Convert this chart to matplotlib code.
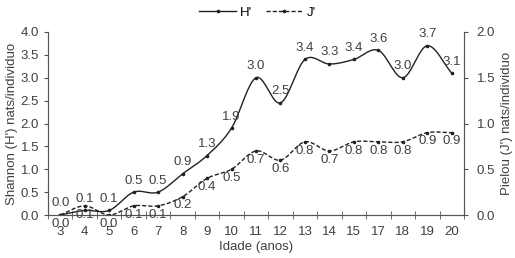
import numpy as np
import matplotlib
matplotlib.use("Agg")
import matplotlib.pyplot as plt
from matplotlib.lines import Line2D

plt.rcParams['font.family'] = ['Liberation Sans', 'DejaVu Sans']
plt.rcParams['font.size'] = 9.5

idades = ['3', '4', '5', '6', '7', '8', '9', '10', '11', '12', '13', '14', '15', '17', '18', '19', '20']
shannon = [0.0, 0.1, 0.1, 0.5, 0.5, 0.9, 1.3, 1.9, 3.0, 2.45, 3.4, 3.3, 3.4, 3.6, 3.0, 3.7, 3.1]
shannon_lbl = ['0.0', '0.1', '0.1', '0.5', '0.5', '0.9', '1.3', '1.9', '3.0', '2.5', '3.4', '3.3', '3.4', '3.6', '3.0', '3.7', '3.1']
pielou = [0.0, 0.1, 0.0, 0.1, 0.1, 0.2, 0.4, 0.5, 0.7, 0.6, 0.8, 0.7, 0.8, 0.8, 0.8, 0.9, 0.9]
pielou_lbl = ['0.0', '0.1', '0.0', '0.1', '0.1', '0.2', '0.4', '0.5', '0.7', '0.6', '0.8', '0.7', '0.8', '0.8', '0.8', '0.9', '0.9']


def smooth(x, y, n=20, t=0.5):
    # catmull-rom style curve through the points (like excel smoothed lines)
    x = np.asarray(x, float)
    y = np.asarray(y, float)
    px = np.concatenate([[2 * x[0] - x[1]], x, [2 * x[-1] - x[-2]]])
    py = np.concatenate([[2 * y[0] - y[1]], y, [2 * y[-1] - y[-2]]])
    xs, ys = [], []
    for i in range(1, len(px) - 2):
        s = np.linspace(0, 1, n, endpoint=False)
        for p, out in ((px, xs), (py, ys)):
            m1 = t * (p[i + 1] - p[i - 1])
            m2 = t * (p[i + 2] - p[i])
            h00 = 2 * s**3 - 3 * s**2 + 1
            h10 = s**3 - 2 * s**2 + s
            h01 = -2 * s**3 + 3 * s**2
            h11 = s**3 - s**2
            out.extend(h00 * p[i] + h10 * m1 + h01 * p[i + 1] + h11 * m2)
    xs.append(x[-1])
    ys.append(y[-1])
    return np.array(xs), np.array(ys)


txt = '#404040'
fig = plt.figure(figsize=(5.15, 2.58), dpi=100)
ax = fig.add_axes([48 / 515, 43 / 258, 416 / 515, 183 / 258])
ax2 = ax.twinx()

x = np.arange(len(idades))
sx, sy = smooth(x, shannon)
ax.plot(sx, sy, color='#222222', lw=1.0)
ax.plot(x, shannon, 'o', color='#222222', ms=1.6)
jx, jy = smooth(x, pielou)
ax2.plot(jx, jy, color='#222222', lw=1.0, ls=(0, (3, 1.5)))
ax2.plot(x, pielou, 'o', color='#222222', ms=1.6)

for i in range(len(x)):
    ax.annotate(shannon_lbl[i], (x[i], shannon[i]), xytext=(0, 4), textcoords='offset points',
                ha='center', va='bottom', color=txt)
    ax2.annotate(pielou_lbl[i], (x[i], pielou[i]), xytext=(0, -2), textcoords='offset points',
                 ha='center', va='top', color=txt)

ax.set_xlim(-0.5, len(idades) - 0.5)
ax.set_ylim(0, 4)
ax2.set_ylim(0, 2)
ax.set_yticks(np.arange(0, 4.01, 0.5))
ax.set_yticklabels(['%.1f' % v for v in np.arange(0, 4.01, 0.5)])
ax2.set_yticks(np.arange(0, 2.01, 0.5))
ax2.set_yticklabels(['%.1f' % v for v in np.arange(0, 2.01, 0.5)])

ax.set_xticks(x)
ax.set_xticklabels(idades)
ax.set_xticks(np.arange(-0.5, len(idades), 1), minor=True)
ax.tick_params(axis='x', which='major', length=0, pad=8, colors=txt)
ax.tick_params(axis='x', which='minor', length=6, direction='inout', color='#555555')
ax.tick_params(axis='y', length=3, colors=txt, color='#555555')
ax2.tick_params(axis='y', length=3, colors=txt, color='#555555', pad=6)

for a in (ax, ax2):
    a.spines['top'].set_visible(False)
    for s in ('left', 'right', 'bottom'):
        a.spines[s].set_color('#555555')

ax.set_xlabel('Idade (anos)', color=txt, labelpad=2)
ax.set_ylabel("Shannon (H') nats/individuo", color=txt, labelpad=2)
ax2.set_ylabel("Pielou (J') nats/individuo", color=txt, labelpad=4)

handles = [Line2D([], [], color='#222222', lw=1.0, marker='o', ms=1.6),
           Line2D([], [], color='#222222', lw=1.0, ls=(0, (3, 1.5)), marker='o', ms=1.6)]
fig.legend(handles, ["H'", "J'"], loc='upper center', bbox_to_anchor=(0.5, 1.02), ncol=2,
           frameon=False, handlelength=2.8, columnspacing=1.0, handletextpad=0.3)

fig.savefig('out.png', dpi=100)
